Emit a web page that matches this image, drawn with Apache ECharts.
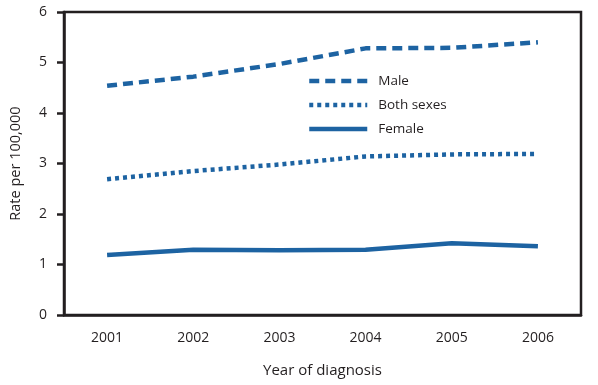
<!DOCTYPE html>
<html><head><meta charset="utf-8">
<script src="https://cdn.jsdelivr.net/npm/echarts@6/dist/echarts.min.js"></script>
<style>html,body{margin:0;padding:0;background:#fff}#c{width:598px;height:385px}</style>
</head><body><div id="c"></div>
<script>
const years = ['2001','2002','2003','2004','2005','2006'];
const male = [4.54, 4.72, 4.97, 5.28, 5.29, 5.40];
const both = [2.69, 2.85, 2.98, 3.14, 3.18, 3.19];
const female = [1.19, 1.29, 1.28, 1.29, 1.42, 1.36];
const yTicks = [0, 1, 2, 3, 4, 5, 6];

const blue = '#1d63a2';
const ink = '#231f20';
const font = '"Open Sans", "Noto Sans", sans-serif';
const chart = echarts.init(document.getElementById('c'));
chart.setOption({
  animation: false,
  textStyle: {fontFamily: font, color: ink},
  grid: {left: 64, right: 17, top: 12, bottom: 70, show: true, borderColor: ink, borderWidth: 2.5, backgroundColor: 'transparent'},
  legend: {
    orient: 'vertical', left: 302, top: 69, itemWidth: 58, itemHeight: 14, itemGap: 10,
    itemStyle: {color: 'transparent', borderWidth: 0, opacity: 0},
    lineStyle: {width: 4.5},
    textStyle: {fontFamily: font, fontSize: 13.5, color: ink, padding: [0,0,0,6]},
    data: ['Male', 'Both sexes', 'Female']
  },
  xAxis: {
    type: 'category', data: years, boundaryGap: true,
    name: 'Year of diagnosis', nameLocation: 'middle', nameGap: 48,
    nameTextStyle: {fontFamily: font, fontSize: 15, color: ink},
    axisLine: {lineStyle: {color: ink, width: 2.5}},
    axisTick: {alignWithLabel: true, length: 8, lineStyle: {color: ink, width: 2.5}},
    axisLabel: {fontFamily: font, fontSize: 14, color: ink, margin: 16},
    splitLine: {show: false}
  },
  yAxis: {
    type: 'value', min: yTicks[0], max: yTicks[yTicks.length-1], interval: 1,
    name: 'Rate per 100,000', nameLocation: 'middle', nameGap: 41,
    nameTextStyle: {fontFamily: font, fontSize: 14.5, color: ink},
    axisLine: {show: true, lineStyle: {color: ink, width: 2.5}},
    axisTick: {show: true, length: 7, lineStyle: {color: ink, width: 2.5}},
    axisLabel: {fontFamily: font, fontSize: 14, color: ink, margin: 17},
    splitLine: {show: false}
  },
  series: [
    {name: 'Male', type: 'line', data: male, symbol: 'none', color: blue,
     lineStyle: {color: blue, width: 4.5, type: [10, 6]}},
    {name: 'Both sexes', type: 'line', data: both, symbol: 'none', color: blue,
     lineStyle: {color: blue, width: 4.5, type: [4, 4]}},
    {name: 'Female', type: 'line', data: female, symbol: 'none', color: blue,
     lineStyle: {color: blue, width: 4.5, type: 'solid'}}
  ]
});
</script></body></html>
